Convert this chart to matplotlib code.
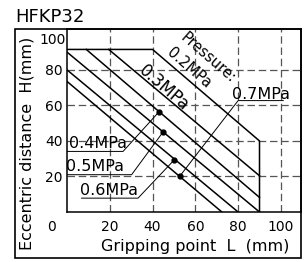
import matplotlib
matplotlib.use("Agg")
import matplotlib.pyplot as plt
from matplotlib.patches import Rectangle

plt.rcParams['font.family'] = ['DejaVu Sans']

# ---- data ----
title = "HFKP32"
xlabel = "Gripping point  L  (mm)"
ylabel = "Eccentric distance  H(mm)"
x_ticks = [20, 40, 60, 80, 100]
y_ticks = [20, 40, 60, 80]

# envelope (0.2 MPa)
env_L = [0, 40, 90, 90]
env_H = [91.5, 91.5, 40, 0]

# pressure lines (start / end points)
p03_L = [19.5, 90]; p03_H = [91.5, 20.4]
p04_L = [9.0, 90];  p04_H = [91.5, 8.2]
p05_L = [0, 90];    p05_H = [90.0, 0]
p06_L = [0, 80];    p06_H = [80.0, 0]
p07_L = [0, 72.4];  p07_H = [73.5, 0]

# marker dots on lines
dot_L = [43.1, 45.0, 50.2, 52.7]
dot_H = [56.5, 45.2, 29.4, 20.1]

# leader lines (underline + pointer to dot)
lead04_L = [0, 26.2, 43.1];   lead04_H = [34.1, 34.1, 56.5]
lead05_L = [0, 30.2, 45.0];   lead05_H = [21.0, 21.0, 45.2]
lead06_L = [6.8, 33.2, 50.2]; lead06_H = [7.8, 7.8, 29.4]
lead07_L = [101.1, 80.0, 52.7]; lead07_H = [62.7, 62.7, 20.1]

fig = plt.figure(figsize=(3.07, 2.62), dpi=100)
ax = fig.add_axes([67/307, 1-212/262, (301-67)/307, (212-29)/262])
ax.set_xlim(0, 109.4)
ax.set_ylim(0, 103)

ax.set_xticks(x_ticks)
ax.set_yticks(y_ticks)
ax.tick_params(length=0, labelsize=10, colors='black')
ax.tick_params(axis='x', pad=6)
ax.tick_params(axis='y', pad=3)
ax.grid(True, color='#555555', lw=0.9, linestyle=(0, (6, 3)), zorder=0)
ax.set_axisbelow(True)
for s in ax.spines.values():
    s.set_linewidth(1.1)

# extra tick labels
ax.text(-7.1, -0.08, "0", transform=ax.get_xaxis_transform(), ha='center', va='center', fontsize=10)
ax.text(-0.004, 96.6, "100", transform=ax.get_yaxis_transform(), ha='right', va='center', fontsize=10)

lw = 1.1
ax.plot(env_L, env_H, color='black', lw=lw)
for Ls, Hs in [(p03_L, p03_H), (p04_L, p04_H), (p05_L, p05_H), (p06_L, p06_H), (p07_L, p07_H)]:
    ax.plot(Ls, Hs, color='black', lw=lw)

for Ls, Hs in [(lead04_L, lead04_H), (lead05_L, lead05_H), (lead06_L, lead06_H), (lead07_L, lead07_H)]:
    ax.plot(Ls, Hs, color='black', lw=0.7)

ax.plot(dot_L, dot_H, 'o', color='black', ms=3.5, zorder=5)

# labels
ax.text(65.8, 87.0, "Pressure:", rotation=-41, rotation_mode='anchor', ha='center', va='center', fontsize=10.5)
ax.text(56.9, 80.8, "0.2MPa", rotation=-41, rotation_mode='anchor', ha='center', va='center', fontsize=10.5)
ax.text(45.3, 70.0, "0.3MPa", rotation=-41, rotation_mode='anchor', ha='center', va='center', fontsize=12)
ax.text(1.0, 36.0, "0.4MPa", ha='left', va='baseline', fontsize=11.5)
ax.text(-0.3, 23.2, "0.5MPa", ha='left', va='baseline', fontsize=11.5)
ax.text(6.3, 9.7, "0.6MPa", ha='left', va='baseline', fontsize=11.5)
ax.text(77.2, 63.7, "0.7MPa", ha='left', va='baseline', fontsize=11.5)

fig.text(15/307, 1-17/262, title, ha='left', va='center', fontsize=13)
fig.text(27/307, 1-143.5/262, ylabel, rotation=90, ha='center', va='center', fontsize=11.5)
fig.text(195/307, 1-246/262, xlabel, ha='center', va='center', fontsize=11.5)

fig.patches.append(Rectangle((15/307, 1-257.7/262), (301-15)/307, (257.7-29)/262,
                             transform=fig.transFigure, fill=False, lw=1.2, edgecolor='black'))

fig.savefig("out.png", dpi=100)
